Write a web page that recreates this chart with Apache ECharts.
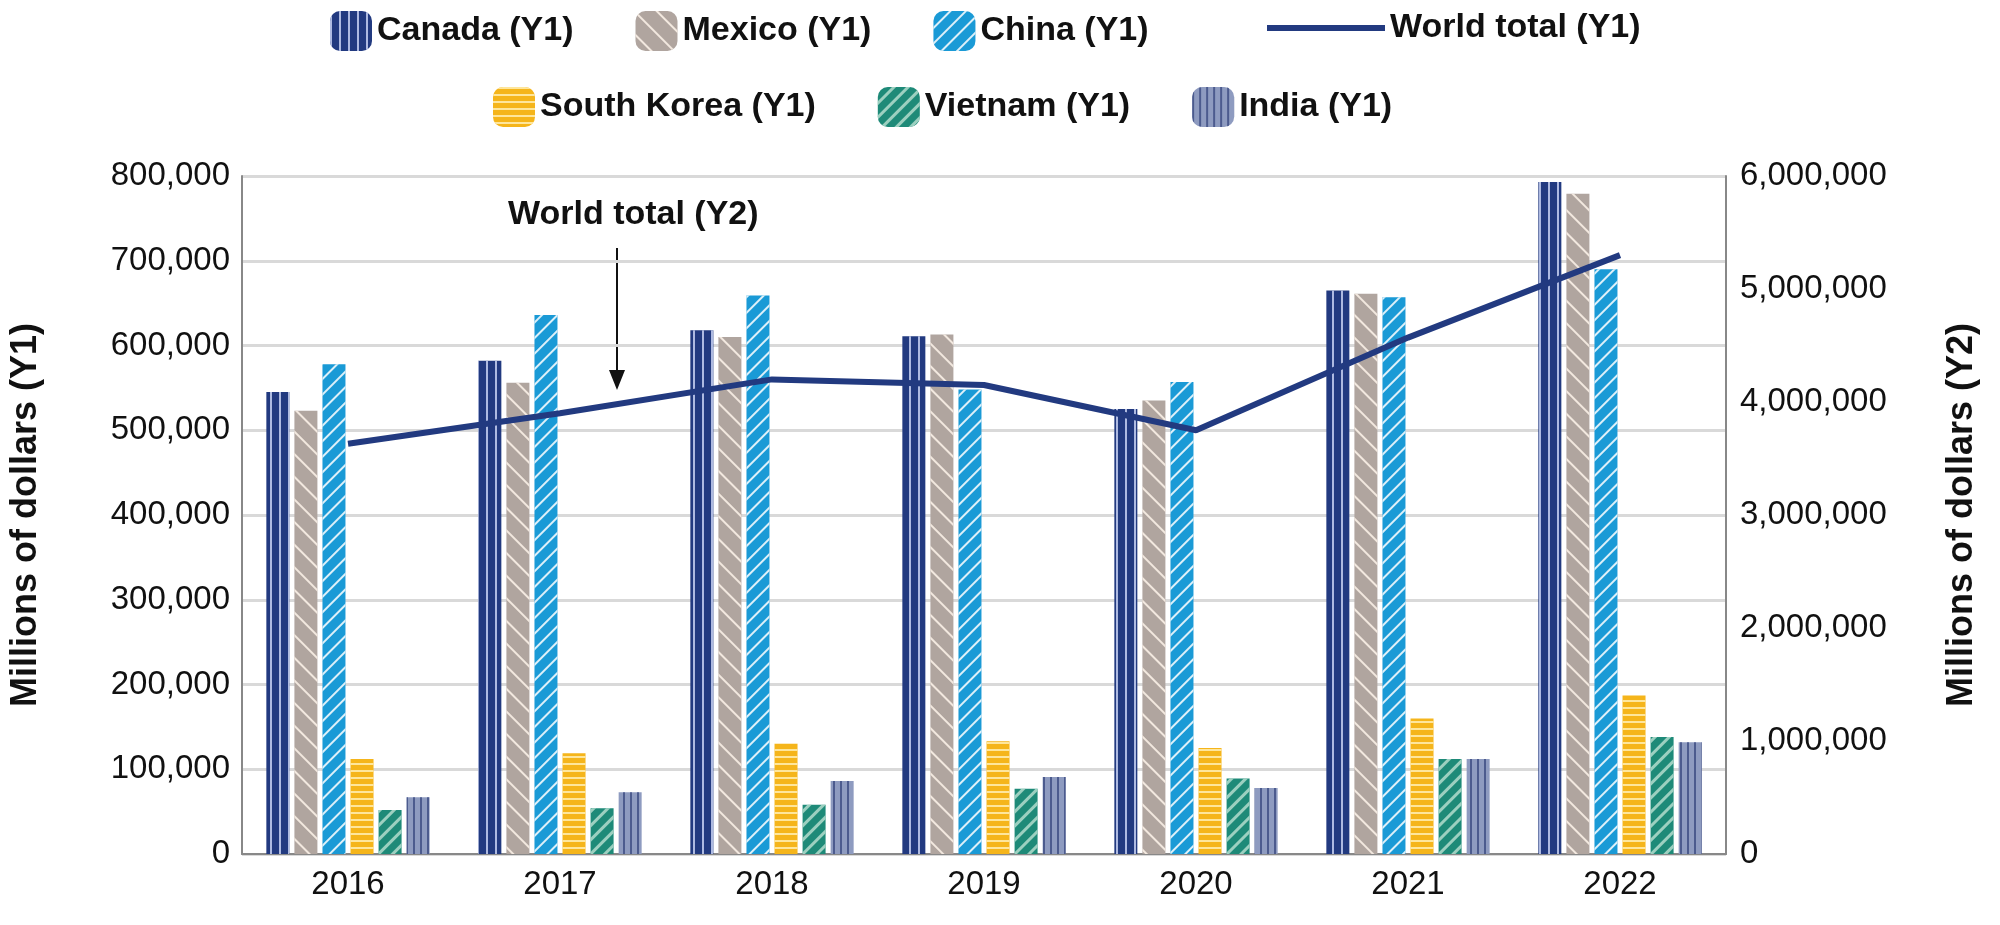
<!DOCTYPE html>
<html><head><meta charset="utf-8">
<script src="https://cdn.jsdelivr.net/npm/echarts@6/dist/echarts.min.js"></script>
<style>html,body{margin:0;padding:0;background:#fff}#c{width:2000px;height:925px}</style>
</head><body><div id="c"></div>
<script>
const years = ['2016','2017','2018','2019','2020','2021','2022'];
const canada = [545000,582000,618000,611000,525000,665000,793000];
const mexico = [523000,556000,610000,613000,535000,661000,779000];
const china = [578000,636000,659000,548000,557000,657000,690000];
const southKorea = [112000,119000,130000,133000,125000,160000,187000];
const vietnam = [52000,54000,58000,77000,89000,112000,138000];
const india = [67000,73000,86000,91000,78000,112000,132000];
const worldTotal = [3630000,3900000,4200000,4150000,3750000,4570000,5300000];

const lbl = {fontFamily:'Liberation Sans, Arial', fontSize:33, color:'#111'};
function bar(name, data, color, decal){
  return {name, type:'bar', data, barWidth:23, barGap:'22%', itemStyle:{color, decal}};
}
const legText = {fontSize:34, fontWeight:'bold', color:'#111'};
const chart = echarts.init(document.getElementById('c'));
chart.setOption({
  animation:false,
  textStyle:{fontFamily:'Liberation Sans, Arial'},
  legend:[
    {top:6, left:325, itemWidth:42, itemHeight:40, itemGap:62, textStyle:legText,
     data:['Canada (Y1)','Mexico (Y1)','China (Y1)']},
    {top:6, left:1262, itemWidth:118, itemHeight:40, textStyle:legText,
     data:[{name:'World total (Y1)', icon:'path://M0,0 H100 V5 H0 Z'}]},
    {top:82, left:488, itemWidth:42, itemHeight:40, itemGap:62, textStyle:legText,
     data:['South Korea (Y1)','Vietnam (Y1)','India (Y1)']}
  ],
  grid:{left:240, right:274, top:176, bottom:71},
  xAxis:{type:'category', data:years, axisTick:{show:false},
    axisLine:{lineStyle:{color:'#888', width:2}}, axisLabel:Object.assign({margin:14}, lbl)},
  yAxis:[
    {type:'value', min:0, max:800000, interval:100000, position:'left',
     name:'Millions of dollars (Y1)', nameLocation:'middle', nameGap:198,
     nameTextStyle:{fontSize:36, fontWeight:'bold', color:'#111'},
     axisLine:{show:true, lineStyle:{color:'#888', width:2}},
     splitLine:{lineStyle:{color:'#d9d9d9', width:3}},
     axisLabel:Object.assign({formatter:v=>v.toLocaleString('en-US'), margin:12}, lbl)},
    {type:'value', min:0, max:6000000, interval:1000000, position:'right',
     name:'Millions of dollars (Y2)', nameLocation:'middle', nameGap:218, nameRotate:90,
     nameTextStyle:{fontSize:36, fontWeight:'bold', color:'#111'},
     axisLine:{show:true, lineStyle:{color:'#888', width:2}},
     splitLine:{show:false},
     axisLabel:Object.assign({formatter:v=>v.toLocaleString('en-US'), margin:14}, lbl)}
  ],
  series:[
    bar('Canada (Y1)', canada, '#223a80', {symbol:'rect', color:'rgba(190,200,235,0.9)', dashArrayX:[2,7], dashArrayY:[1,0], symbolSize:1}),
    bar('Mexico (Y1)', mexico, '#b0a59f', {symbol:'rect', color:'rgba(250,240,230,0.9)', dashArrayX:[1,0], dashArrayY:[2,14], rotation:Math.PI/4, symbolSize:1}),
    bar('China (Y1)', china, '#1a9ad6', {symbol:'rect', color:'rgba(255,255,255,0.85)', dashArrayX:[1,0], dashArrayY:[2,9], rotation:-Math.PI/4, symbolSize:1}),
    {name:'World total (Y1)', type:'line', yAxisIndex:1, data:worldTotal, symbol:'none',
     lineStyle:{color:'#223a80', width:6}, itemStyle:{color:'#223a80'}, z:5},
    bar('South Korea (Y1)', southKorea, '#f5b51b', {symbol:'rect', color:'rgba(255,235,170,0.9)', dashArrayX:[1,0], dashArrayY:[2,5], symbolSize:1}),
    bar('Vietnam (Y1)', vietnam, '#1e8a78', {symbol:'rect', color:'rgba(170,215,200,0.9)', dashArrayX:[1,0], dashArrayY:[3,7], rotation:-Math.PI/4, symbolSize:1}),
    bar('India (Y1)', india, '#8e9bc0', {symbol:'rect', color:'rgba(60,75,130,0.8)', dashArrayX:[2,5], dashArrayY:[1,0], symbolSize:1})
  ],
  graphic:[
    {type:'text', left:508, top:198, style:{text:'World total (Y2)', font:'bold 34px Liberation Sans, Arial', fill:'#111'}},
    {type:'line', shape:{x1:617, y1:248, x2:617, y2:378}, style:{stroke:'#111', lineWidth:2}},
    {type:'polygon', shape:{points:[[609,370],[625,370],[617,390]]}, style:{fill:'#111'}}
  ]
});
</script></body></html>
